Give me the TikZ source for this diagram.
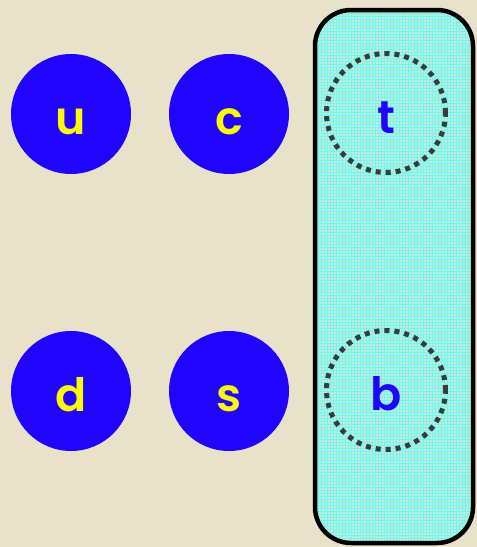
\documentclass[tikz,border=0pt]{standalone}
\usepackage{fontspec}
\setmainfont{Poppins}
\newfontfamily\qfont{Poppins SemiBold}
\definecolor{bgbeige}{RGB}{233,226,203}
\definecolor{qblue}{RGB}{32,4,252}
\definecolor{qyellow}{RGB}{250,250,0}
\definecolor{boxbase}{RGB}{200,234,214}
\definecolor{boxgrid}{RGB}{110,248,240}
\definecolor{dotgray}{RGB}{52,60,60}
\begin{document}
\begin{tikzpicture}[x=1pt,y=-1pt,
  qtext/.style={inner sep=0pt,text height=40pt,text depth=0pt,font=\fontsize{46}{46}\selectfont\qfont},
  quark/.style={circle,fill=qblue,minimum size=120pt,text=qyellow,qtext},
  ghost/.style={circle,draw=dotgray,line width=5pt,dash pattern=on 5pt off 5pt,minimum size=119pt,text=qblue,qtext},
  panel/.style={draw=black,line width=4.5pt,rounded corners=36pt},
  gridline/.style={draw=boxgrid,line width=1pt}]
\fill[bgbeige] (0,0) rectangle (477,547);
\useasboundingbox (0,0) rectangle (477,547);
\begin{scope}
  \clip[rounded corners=36pt] (315,10) rectangle (473,543);
  \fill[boxbase] (315,10) rectangle (473,543);
  \foreach \gx in {315,318,...,474} {\draw[gridline] (\gx,10) -- (\gx,543);}
  \foreach \gy in {10,13,...,544} {\draw[gridline] (315,\gy) -- (473,\gy);}
\end{scope}
\draw[panel] (315,10) rectangle (473,543);
\node[quark] (u) at (71,114) {u};
\node[quark] (c) at (229,114) {c};
\node[quark] (d) at (71,391) {d};
\node[quark] (s) at (229,391) {s};
\node[ghost] (t) at (386,113) {t};
\node[ghost] (b) at (386,390) {b};
\end{tikzpicture}
\end{document}
